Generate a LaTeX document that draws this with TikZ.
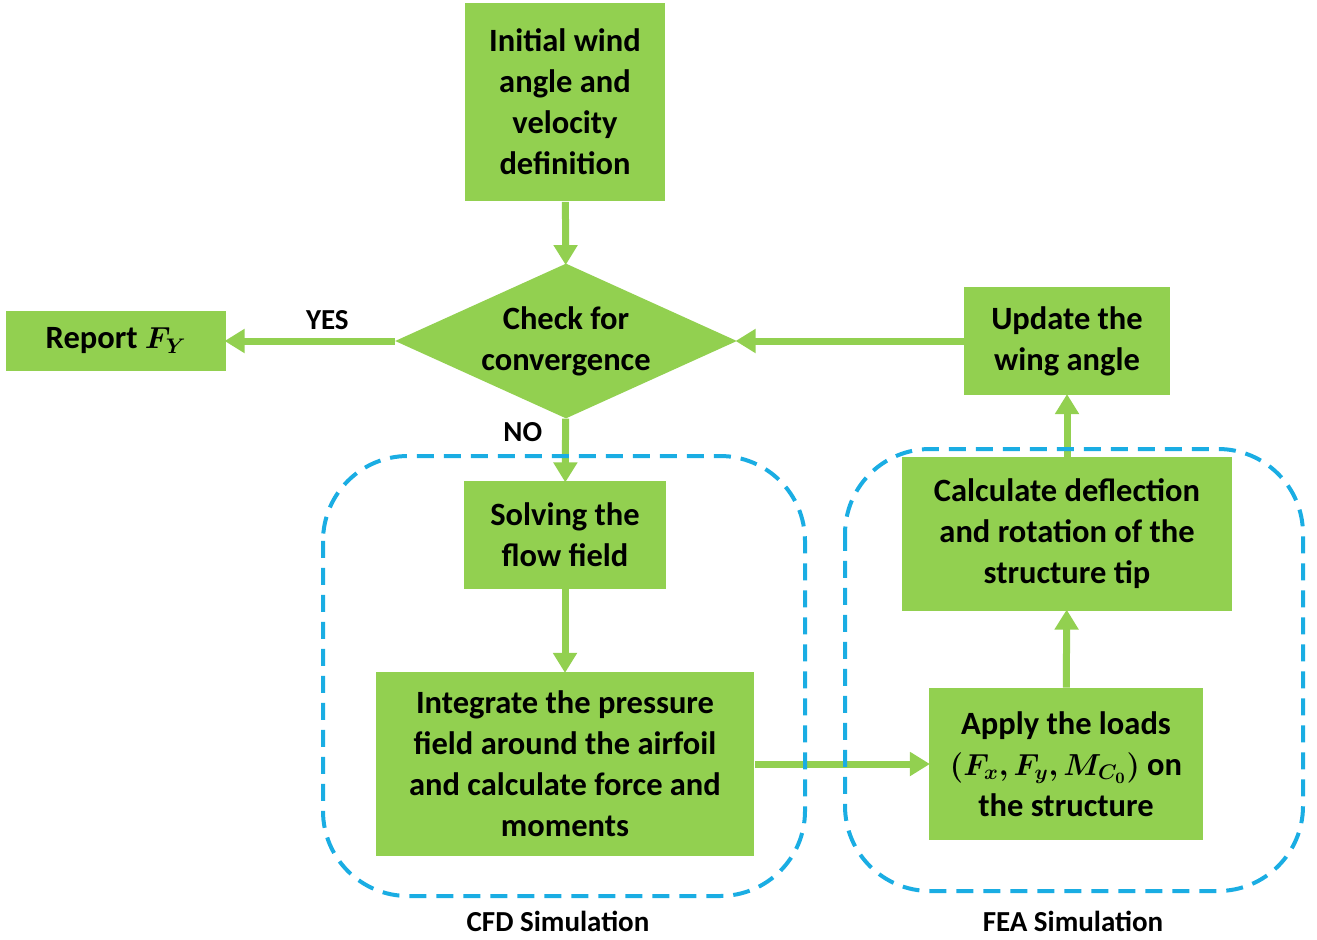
\documentclass[tikz,border=0pt]{standalone}
\usepackage{fontspec}
\usepackage{bm}
\setmainfont{Carlito}
\usetikzlibrary{arrows.meta}
\usetikzlibrary{shapes.geometric}

\definecolor{boxgreen}{HTML}{92D050}
\definecolor{simblue}{HTML}{1AADE3}

\tikzset{
 greenbox/.style={fill=boxgreen, inner sep=0pt, align=center, font=\bfseries\fontsize{18.5}{23.3}\selectfont},
 flowarrow/.style={boxgreen, line width=0.14cm, -{Triangle[width=0.46cm,length=0.4cm]}, shorten >=-1pt},
 simbox/.style={simblue, line width=0.08cm, dash pattern=on 0.34cm off 0.2cm, rounded corners=1.7cm},
 lbl/.style={text=black, font=\bfseries\fontsize{16.5}{19}\selectfont}
}

\begin{document}
\begin{tikzpicture} [x=0.02cm, y=-0.02cm]

\useasboundingbox (0,0) rectangle (1317,939);

% boxes of the loop
\node[greenbox, minimum width=4cm, minimum height=3.98cm] (init) at (565,102) {Initial wind\\angle and\\velocity\\definition};
\node[greenbox, diamond, aspect=2.2, minimum width=6.84cm, minimum height=3.1cm] (check) at (566,341) {Check for\\convergence};
\node[greenbox, minimum width=4.4cm, minimum height=1.22cm] (report) at (116,341) {Report $\bm{F_Y}$};
\node[greenbox, minimum width=4.12cm, minimum height=2.18cm] (update) at (1067,341) {Update the\\wing angle};
\node[greenbox, minimum width=4.06cm, minimum height=2.16cm] (solve) at (565,535) {Solving the\\flow field};
\node[greenbox, minimum width=7.58cm, minimum height=3.7cm] (integ) at (565,764) {Integrate the pressure\\field around the airfoil\\and calculate force and\\moments};
\node[greenbox, minimum width=5.5cm, minimum height=3.04cm] (apply) at (1066,764) {Apply the loads\\$\bm{(F_x,F_y,M_{C_0})}$ on\\the structure};
\node[greenbox, minimum width=6.6cm, minimum height=3.08cm] (calc) at (1067,534) {Calculate deflection\\and rotation of the\\structure tip};

% connectors
\draw[flowarrow] (init) -- (check);
\draw[flowarrow] (check) -- (report) node[lbl, pos=0.4, above=1pt]{YES};
\draw[flowarrow] (update) -- (check);
\draw[flowarrow] (check) -- (solve) node[lbl, pos=0.22, left=8pt]{NO};
\draw[flowarrow] (solve) -- (integ);
\draw[flowarrow] (integ) -- (apply);
\draw[flowarrow] (apply) -- (calc);
\draw[flowarrow] (calc) -- (update);

% simulation groups
\draw[simbox] (323,456) rectangle (805,896);
\draw[simbox] (845,449) rectangle (1303,891);
\node[lbl] (cfd) at (558,921) {CFD Simulation};
\node[lbl] (fea) at (1073,921) {FEA Simulation};

\end{tikzpicture}
\end{document}
